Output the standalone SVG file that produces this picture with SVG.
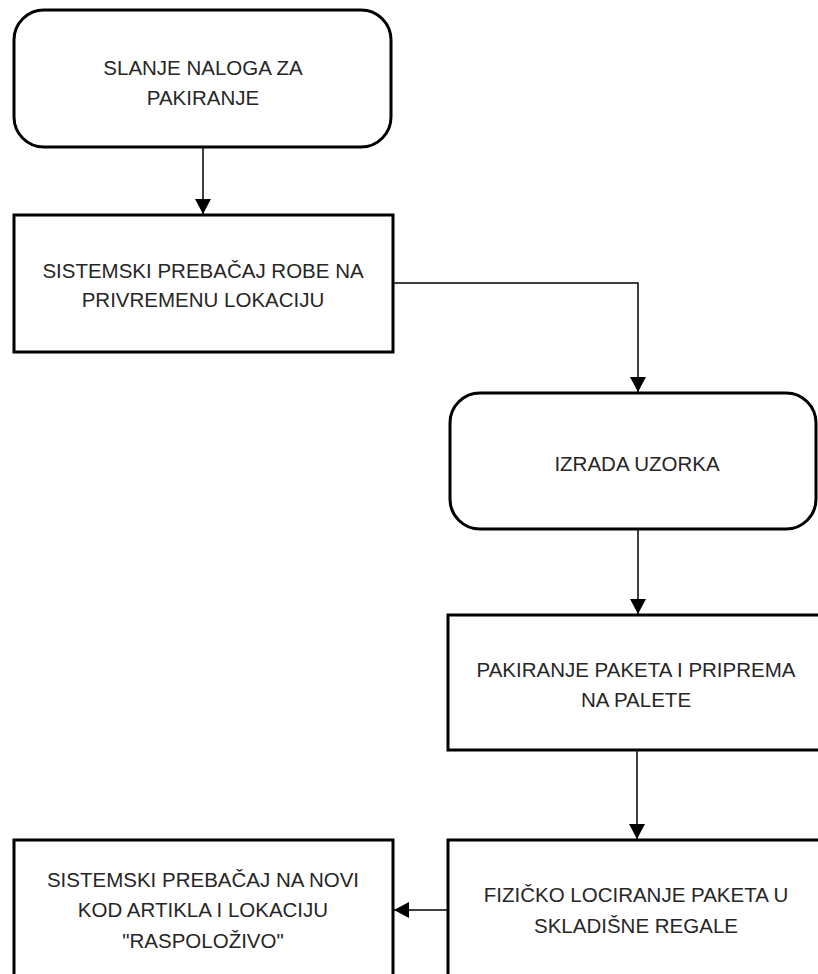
<svg xmlns="http://www.w3.org/2000/svg" width="818" height="974" viewBox="0 0 818 974">
  <style>
    .box { fill: #ffffff; stroke: #000000; stroke-width: 3; }
    .lbl { font-family: "Liberation Sans", Arial, sans-serif; font-size: 20.5px; fill: #262626; text-anchor: middle; }
    .conn { fill: none; stroke: #000000; stroke-width: 1.5; marker-end: url(#arrow); }
  </style>
  <defs>
    <marker id="arrow" markerUnits="userSpaceOnUse" markerWidth="16" markerHeight="16" viewBox="0 0 16 16" refX="15" refY="8" orient="auto">
      <path d="M0,0 L15,8 L0,16 Z" fill="#000000"/>
    </marker>
  </defs>
  <rect width="818" height="974" fill="#ffffff"/>

  <g id="connectors">
    <path class="conn" d="M203,147 V214"/>
    <path class="conn" d="M393,283 H638 V392"/>
    <path class="conn" d="M638,529 V614"/>
    <path class="conn" d="M637,750 V839"/>
    <path class="conn" d="M448,910 H394"/>
  </g>

  <g id="n1">
    <rect class="box" x="14" y="10" width="377" height="137" rx="30" ry="30"/>
    <text class="lbl" x="203" y="75">SLANJE NALOGA ZA</text>
    <text class="lbl" x="203" y="105">PAKIRANJE</text>
  </g>

  <g id="n2">
    <rect class="box" x="14" y="215" width="379" height="137"/>
    <text class="lbl" x="203" y="278">SISTEMSKI PREBAČAJ ROBE NA</text>
    <text class="lbl" x="203" y="307">PRIVREMENU LOKACIJU</text>
  </g>

  <g id="n3">
    <rect class="box" x="450" y="393" width="366" height="136" rx="30" ry="30"/>
    <text class="lbl" x="637" y="471">IZRADA UZORKA</text>
  </g>

  <g id="n4">
    <rect class="box" x="448" y="615" width="400" height="135"/>
    <text class="lbl" x="636" y="677">PAKIRANJE PAKETA I PRIPREMA</text>
    <text class="lbl" x="636" y="707">NA PALETE</text>
  </g>

  <g id="n5">
    <rect class="box" x="448" y="840" width="400" height="150"/>
    <text class="lbl" x="636" y="902">FIZIČKO LOCIRANJE PAKETA U</text>
    <text class="lbl" x="636" y="933">SKLADIŠNE REGALE</text>
  </g>

  <g id="n6">
    <rect class="box" x="14" y="840" width="379" height="150"/>
    <text class="lbl" x="203" y="887">SISTEMSKI PREBAČAJ NA NOVI</text>
    <text class="lbl" x="203" y="917">KOD ARTIKLA I LOKACIJU</text>
    <text class="lbl" x="203" y="948">"RASPOLOŽIVO"</text>
  </g>
</svg>
